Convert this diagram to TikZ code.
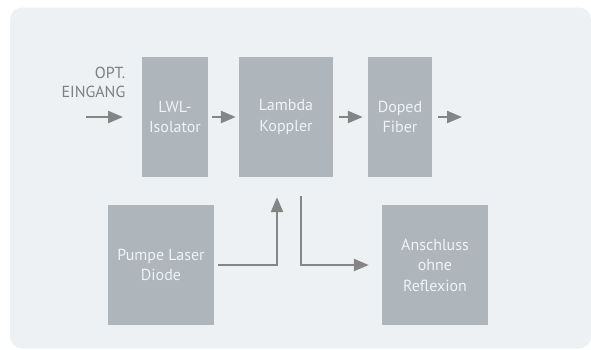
\documentclass[tikz,border=0pt]{standalone}
\usepackage{fontspec}
\setmainfont{PT Sans}
\usetikzlibrary{arrows.meta}
\definecolor{panel}{HTML}{EDF1F4}
\definecolor{boxfill}{HTML}{AEB5BB}
\definecolor{boxtext}{HTML}{F1F3F5}
\definecolor{labeltext}{HTML}{7F7F7F}
\definecolor{arrowgray}{HTML}{858585}
\tikzset{
  block/.style={rectangle, fill=boxfill, draw=none, text=boxtext, align=center,
    inner sep=0pt, font=\fontsize{16}{20.5}\selectfont},
  flow/.style={draw=arrowgray, line width=2.4pt,
    -{Triangle[length=15pt,width=12pt]}},
}
\begin{document}
\begin{tikzpicture}[x=1pt, y=-1pt]
  \useasboundingbox (0,0) rectangle (591,349);
  % background panel
  \fill[panel, rounded corners=12pt] (10,7.5) rectangle (591,348.5);

  % blocks of the amplifier chain
  \node[block, minimum width=66pt, minimum height=120pt] (iso) at (175,117) {LWL-\\Isolator};
  \node[block, minimum width=94pt, minimum height=120pt] (lam) at (286,117) {Lambda\\Koppler};
  \node[block, minimum width=64pt, minimum height=120pt] (dop) at (400,117) {Doped\\Fiber};
  \node[block, minimum width=106pt, minimum height=120pt] (pump) at (161,265) {Pumpe Laser\\Diode};
  \node[block, minimum width=106pt, minimum height=120pt] (ansch) at (435,265) {Anschluss\\ohne\\Reflexion};

  % input label
  \node[anchor=east, align=right, text=labeltext, inner sep=0pt,
        font=\fontsize{16}{19}\selectfont] (inlabel) at (125.5,82) {OPT.\\EINGANG};

  \coordinate (in) at (86,117);
  \coordinate (inend) at (123,117);
  \coordinate (out) at (462,117);

  % signal path
  \draw[flow] (in) -- (inend);
  \draw[flow, shorten <=4pt, shorten >=3pt] (iso.east) -- (lam.west);
  \draw[flow, shorten <=6pt, shorten >=5pt] (lam.east) -- (dop.west);
  \draw[flow, shorten <=6pt] (dop.east) -- (out);

  % pump feed and reflection-free termination
  \coordinate (pumpup) at ([xshift=-9pt, yshift=-20pt]lam.south);
  \coordinate (tapdown) at ([xshift=15pt, yshift=-19pt]lam.south);
  \draw[flow] ([xshift=4pt]pump.east) -| (pumpup);
  \draw[flow] (tapdown) |- ([xshift=-13pt]ansch.west);
\end{tikzpicture}
\end{document}
